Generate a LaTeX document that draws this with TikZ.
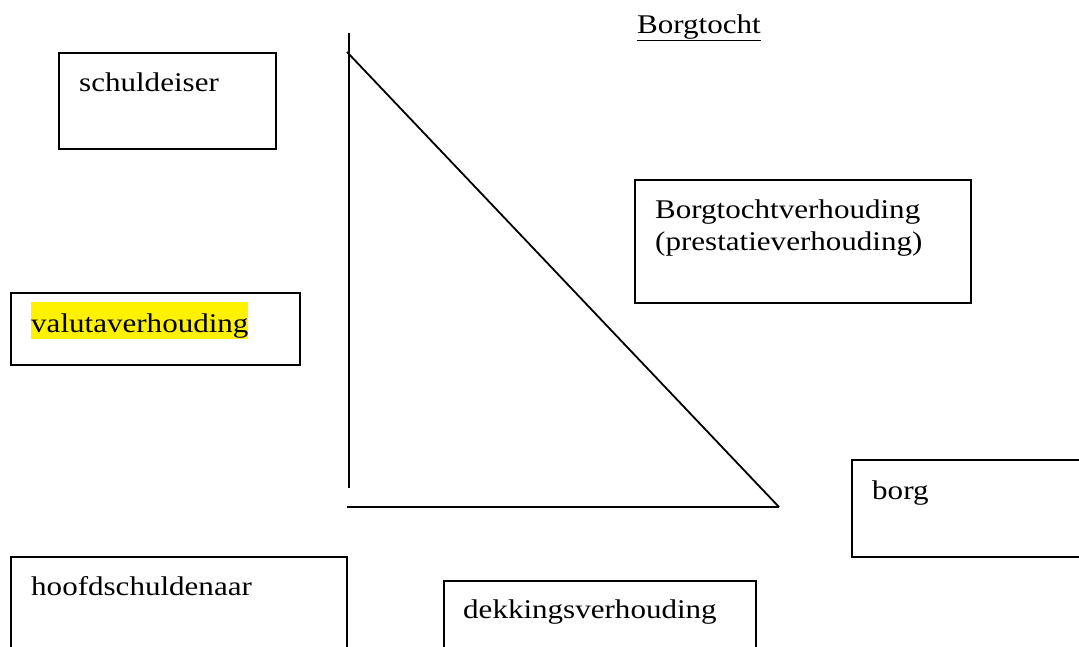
\documentclass[tikz,border=0pt]{standalone}
\usepackage{fontspec}
\setmainfont{Liberation Serif}[FakeStretch=1.15]
\usetikzlibrary{positioning,calc}

\begin{document}
\begin{tikzpicture}[x=1pt, y=-1pt]

% Define styles
\tikzstyle{box} = [rectangle, draw=black, line width=2pt, anchor=north west, inner sep=0pt]
\tikzstyle{txt} = [anchor=base west, inner sep=0pt, font=\fontsize{27}{32}\selectfont]
\tikzstyle{stroke} = [line width=1.8pt]

\useasboundingbox (0,0) rectangle (1079,646);
\clip (0,0) rectangle (1079,646);

% TITLE
\node (title) [txt] at (637,33) {\underline{Borgtocht}};

% BOXES
\node (schuldeiserbox) [box, minimum width=217, minimum height=96] at (58,52) {};
\node (valutabox) [box, minimum width=289, minimum height=72] at (10,292) {};
\node (verhoudingbox) [box, minimum width=336, minimum height=123] at (634,179) {};
\node (borgbox) [box, minimum width=240, minimum height=97] at (851,459) {};
\node (hoofdbox) [box, minimum width=336, minimum height=120] at (10,556) {};
\node (dekkingbox) [box, minimum width=312, minimum height=100] at (443,580) {};

% TEXTS
\node (schuldeiser) [txt] at ($(schuldeiserbox.north west)+(21,39)$) {schuldeiser};
\node (valuta) [txt, fill=yellow, text height=30pt, text depth=7pt] at ($(valutabox.north west)+(21,40)$) {valutaverhouding};
\node (verhouding) [txt, align=left] at ($(verhoudingbox.north west)+(21,71)$) {Borgtochtverhouding\\(prestatieverhouding)};
\node (borg) [txt] at ($(borgbox.north west)+(21,40)$) {borg};
\node (hoofd) [txt] at ($(hoofdbox.north west)+(21,39)$) {hoofdschuldenaar};
\node (dekking) [txt] at ($(dekkingbox.north west)+(20,38)$) {dekkingsverhouding};

% TRIANGLE
\coordinate (vtop) at (349,33);
\coordinate (vbottom) at (349,488);
\coordinate (dtop) at (347,52);
\coordinate (hleft) at (347,507);
\coordinate (hright) at (779,507);
\draw [stroke] (vtop) -- (vbottom);
\draw [stroke] (dtop) -- (hright);
\draw [stroke] (hleft) -- (hright);

\end{tikzpicture}
\end{document}
